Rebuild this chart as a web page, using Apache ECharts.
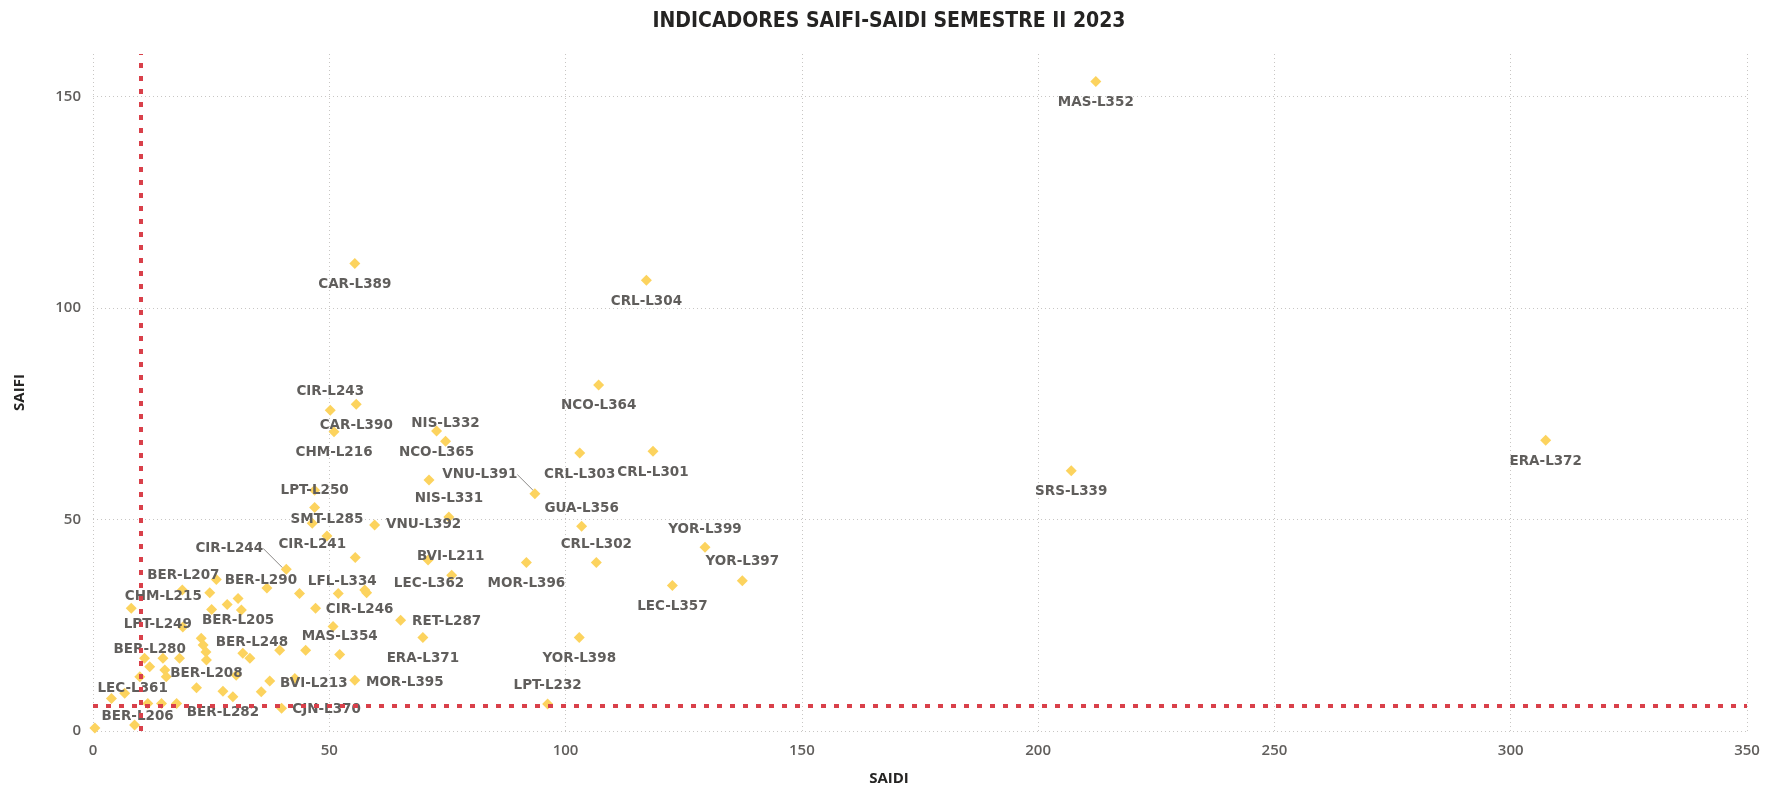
<!DOCTYPE html>
<html>
<head>
<meta charset="utf-8">
<script src="https://cdn.jsdelivr.net/npm/echarts@6/dist/echarts.min.js"></script>
<style>
html, body { margin: 0; padding: 0; background: #fff; }
#container { width: 1778px; height: 791px; }
</style>
</head>
<body>
<div id="container"></div>
<script>
var saidiTicks = [0, 50, 100, 150, 200, 250, 300, 350];
var saifiTicks = [0, 50, 100, 150];
var saifiTop = 160;
var saidiLimit = 10;
var saifiLimit = 6;

var circuits = [
    'MAS-L352', 'CAR-L389', 'CRL-L304', 'NCO-L364', 'ERA-L372', 'SRS-L339', 'CRL-L301', 'CRL-L303',
    'CIR-L243', 'CAR-L390', 'CHM-L216', 'NCO-L365', 'NIS-L332', '', 'VNU-L391', 'GUA-L356',
    'CRL-L302', 'MOR-L396', 'YOR-L399', 'YOR-L397', 'LEC-L357', 'YOR-L398', 'LPT-L232', 'NIS-L331',
    '', 'LPT-L250', 'CIR-L241', 'SMT-L285', 'VNU-L392', 'LEC-L362', 'BVI-L211', '',
    'CIR-L244', 'ERA-L371', 'RET-L287', 'MOR-L395', 'CIR-L246', 'MAS-L354', 'LFL-L334', '',
    '', '', 'BER-L290', '', 'BER-L207', '', 'CHM-L215', '',
    '', 'BER-L205', '', 'LPT-L249', '', '', '', '',
    'BER-L208', '', 'BER-L248', '', '', 'BER-L280', '', '',
    '', '', '', '', '', '', 'BER-L282', '',
    '', 'BVI-L213', '', 'CJN-L370', '', 'LEC-L361', '', '',
    '', 'BER-L206', ''
];
var saidi = [
    212.2, 55.4, 117.1, 107.0, 307.4, 207.0, 118.5, 103.0,
    50.2, 55.7, 51.0, 72.7, 74.6, 71.1, 93.5, 103.4,
    106.5, 91.7, 129.5, 137.4, 122.6, 102.9, 96.2, 75.3,
    46.9, 46.9, 46.4, 49.5, 59.6, 70.9, 75.9, 55.5,
    40.9, 69.8, 65.1, 55.4, 47.1, 52.2, 51.9, 57.5,
    57.9, 43.7, 36.8, 26.1, 18.9, 24.7, 8.1, 25.1,
    28.4, 30.7, 31.4, 19.0, 50.8, 22.9, 23.3, 23.9,
    24.0, 31.7, 33.2, 39.5, 45.0, 12.0, 10.9, 14.8,
    18.3, 15.2, 15.5, 9.9, 30.3, 21.9, 27.5, 29.6,
    35.6, 37.4, 42.7, 39.9, 3.9, 6.7, 11.6, 14.5,
    17.7, 8.8, 0.4
];
var saifi = [
    153.5, 110.5, 106.5, 81.8, 68.7, 61.5, 66.1, 65.7,
    75.8, 77.2, 70.7, 70.9, 68.5, 59.3, 56.1, 48.4,
    39.8, 39.8, 43.4, 35.5, 34.4, 22.1, 6.4, 50.6,
    56.9, 52.8, 49.1, 46.1, 48.7, 40.4, 36.8, 41.0,
    38.2, 22.1, 26.2, 12.0, 29.0, 18.1, 32.5, 33.3,
    32.7, 32.5, 33.8, 35.8, 33.3, 32.7, 29.0, 28.7,
    29.9, 31.3, 28.6, 24.6, 24.7, 21.9, 20.3, 18.7,
    16.8, 18.4, 17.2, 19.1, 19.1, 15.2, 17.2, 17.2,
    17.2, 14.4, 12.8, 12.8, 13.2, 10.2, 9.4, 8.1,
    9.3, 11.8, 12.4, 5.4, 7.7, 8.9, 6.5, 6.5,
    6.5, 1.4, 0.7
];

// where each label sits relative to its marker (px), default is just below
var labelShift = {
    'CIR-L243': [0, -19], 'NIS-L332': [0, -18], 'VNU-L391': [-55, -19], 'GUA-L356': [0, -18],
    'CRL-L302': [0, -18], 'NIS-L331': [0, -18], 'CIR-L244': [-57, -21], 'LPT-L250': [0, -17],
    'SMT-L285': [0, -16], 'VNU-L392': [49, 0], 'BVI-L211': [-1, -19], 'LEC-L362': [1, 23],
    'YOR-L399': [0, -18], 'YOR-L397': [0, -19], 'LPT-L232': [0, -18], 'RET-L287': [46, 1],
    'MOR-L395': [50, 2], 'CIR-L246': [44, 1], 'MAS-L354': [0, -18], 'LFL-L334': [4, -12],
    'BER-L290': [-6, -7], 'BER-L207': [1, -15], 'CHM-L215': [32, -12], 'BER-L205': [0, 22],
    'LPT-L249': [-25, -2], 'BER-L280': [0, -17], 'BER-L248': [2, -16], 'BER-L208': [0, 14],
    'LEC-L361': [8, -5], 'BER-L206': [3, -9], 'BVI-L213': [44, 2], 'CJN-L370': [45, 1]
};
var leaderLines = ['VNU-L391', 'CIR-L244'];

var points = saidi.map(function (x, i) {
    var item = { name: circuits[i], value: [x, saifi[i]] };
    if (!circuits[i]) item.label = { show: false };
    if (leaderLines.indexOf(circuits[i]) >= 0) {
        item.labelLine = { show: true, lineStyle: { color: '#8a8886', width: 1 } };
    }
    return item;
});

var dom = document.getElementById('container');
var myChart = echarts.init(dom);

var gridColor = '#c8c6c4';
var tickFont = { color: '#605e5c', fontSize: 15, fontFamily: 'Open Sans', fontWeight: 600 };
var axisNameFont = { color: '#252423', fontSize: 15, fontWeight: 'bold', fontFamily: 'Open Sans' };

option = {
    animation: false,
    title: {
        text: 'INDICADORES SAIFI-SAIDI SEMESTRE II 2023',
        left: 'center',
        top: 6,
        textStyle: {
            color: '#252423',
            fontSize: 21,
            fontWeight: 'bold',
            fontFamily: '"Liberation Sans Narrow", "DejaVu Sans Condensed", sans-serif'
        }
    },
    grid: { left: 93, right: 31, top: 54, bottom: 60 },
    xAxis: {
        type: 'value',
        name: 'SAIDI',
        nameLocation: 'middle',
        nameGap: 40,
        // the title sits under the page centre, not the plot centre
        nameTextStyle: Object.assign({ padding: [0, 62, 0, 0] }, axisNameFont),
        min: saidiTicks[0],
        max: saidiTicks[saidiTicks.length - 1],
        interval: saidiTicks[1] - saidiTicks[0],
        axisLine: { show: false },
        axisTick: { show: false },
        axisLabel: Object.assign({ margin: 12 }, tickFont),
        splitLine: { show: true, lineStyle: { color: gridColor, type: [1, 3], width: 1 } }
    },
    yAxis: {
        type: 'value',
        name: 'SAIFI',
        nameLocation: 'middle',
        nameGap: 66,
        nameTextStyle: axisNameFont,
        min: saifiTicks[0],
        max: saifiTop,
        interval: saifiTicks[1] - saifiTicks[0],
        axisLine: { show: false },
        axisTick: { show: false },
        axisLabel: Object.assign({ margin: 12, showMaxLabel: false }, tickFont),
        splitLine: {
            show: true,
            lineStyle: {
                color: saifiTicks.map(function () { return gridColor; }).concat(['rgba(0,0,0,0)']),
                type: [1, 3],
                width: 1
            }
        }
    },
    series: [
        {
            name: 'Circuitos',
            type: 'scatter',
            symbol: 'diamond',
            symbolSize: 11,
            itemStyle: { color: '#fcd35e', opacity: 1 },
            data: points,
            label: {
                show: true,
                position: 'inside',
                formatter: '{b}',
                color: '#605e5c',
                fontSize: 13.5,
                fontWeight: 'bold',
                fontFamily: 'DejaVu Sans'
            },
            labelLayout: function (params) {
                var s = labelShift[circuits[params.dataIndex]] || [0, 21];
                return { dx: s[0], dy: s[1] };
            },
            markLine: {
                silent: true,
                symbol: ['none', 'none'],
                label: { show: false },
                lineStyle: { color: '#d9404a', width: 4, type: [5, 8], opacity: 1 },
                emphasis: { disabled: true },
                data: [{ xAxis: saidiLimit }, { yAxis: saifiLimit }]
            }
        }
    ]
};

if (option && typeof option === 'object') {
    myChart.setOption(option, true);
}
</script>
</body>
</html>
